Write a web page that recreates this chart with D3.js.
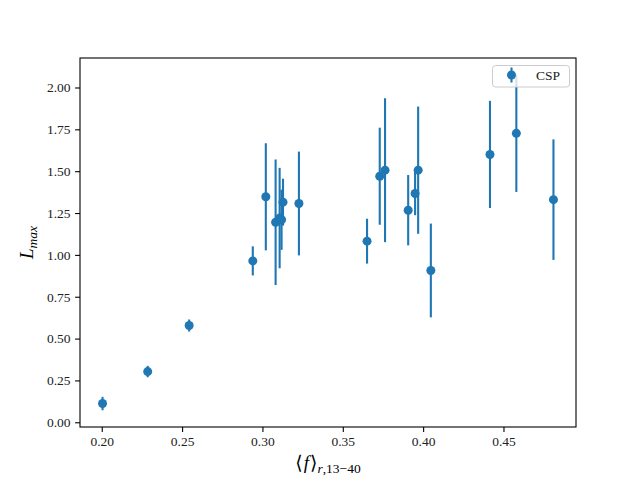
<!DOCTYPE html>
<html>
<head>
<meta charset="utf-8">
<script src="https://cdn.jsdelivr.net/npm/d3@7"></script>
<style>
    body { margin: 0; background: #fff; }
    svg { font-family: "Liberation Serif", "DejaVu Serif", serif; }
</style>
</head>
<body>
<div id="chart"></div>
<script>
// <f>_{r,13-40} against L_max, one series (CSP)
const fValues = [0.2005, 0.2286, 0.2544, 0.2940, 0.3021, 0.3082, 0.3107, 0.3119, 0.3128, 0.3227,
    0.3651, 0.3730, 0.3763, 0.3907, 0.3950, 0.3969, 0.4048, 0.4416, 0.4580, 0.4811]
const lMaxValues = [0.112, 0.303, 0.578, 0.964, 1.347, 1.195, 1.220, 1.210, 1.315, 1.307,
    1.082, 1.470, 1.506, 1.267, 1.367, 1.506, 0.907, 1.600, 1.726, 1.330]
const lMaxErrors = [0.040, 0.034, 0.036, 0.087, 0.320, 0.375, 0.300, 0.180, 0.140, 0.310,
    0.134, 0.290, 0.430, 0.210, 0.130, 0.380, 0.280, 0.320, 0.350, 0.360]
const seriesName = 'CSP'

const xTicks = [0.20, 0.25, 0.30, 0.35, 0.40, 0.45]
const yTicks = [0.00, 0.25, 0.50, 0.75, 1.00, 1.25, 1.50, 1.75, 2.00]

const width = 640
const height = 480
const margin = { top: 58, right: 64, bottom: 53, left: 80 }
const blue = '#1f77b4'

const points = fValues.map((f, i) => ({
    f: f,
    l: lMaxValues[i],
    err: lMaxErrors[i]
}))

// matplotlib style 5% padding
const xExt = d3.extent(fValues)
const xPad = (xExt[1] - xExt[0]) * 0.05
const yLo = d3.min(points, d => d.l - d.err)
const yHi = d3.max(points, d => d.l + d.err)
const yPad = (yHi - yLo) * 0.05

const x = d3.scaleLinear()
    .domain([xExt[0] - xPad, xExt[1] + xPad])
    .range([margin.left, width - margin.right])

const y = d3.scaleLinear()
    .domain([yLo - yPad, yHi + yPad])
    .range([height - margin.bottom, margin.top])

const svg = d3.select('#chart').append('svg')
    .attr('width', width)
    .attr('height', height)

svg.append('rect')
    .attr('width', width)
    .attr('height', height)
    .attr('fill', '#fff')

//error bars then markers
svg.append('g')
    .selectAll('line')
    .data(points)
    .enter().append('line')
    .attr('x1', d => x(d.f))
    .attr('x2', d => x(d.f))
    .attr('y1', d => y(d.l - d.err))
    .attr('y2', d => y(d.l + d.err))
    .attr('stroke', blue)
    .attr('stroke-width', 2.1)

svg.append('g')
    .selectAll('circle')
    .data(points)
    .enter().append('circle')
    .attr('cx', d => x(d.f))
    .attr('cy', d => y(d.l))
    .attr('r', 4.5)
    .attr('fill', blue)

// axes
const xAxis = svg.append('g')
    .attr('transform', 'translate(0,' + (height - margin.bottom) + ')')
    .call(d3.axisBottom(x).tickValues(xTicks).tickFormat(d3.format('.2f'))
        .tickSize(4.9).tickPadding(4.5))
const yAxis = svg.append('g')
    .attr('transform', 'translate(' + margin.left + ',0)')
    .call(d3.axisLeft(y).tickValues(yTicks).tickFormat(d3.format('.2f'))
        .tickSize(4.9).tickPadding(4.5))

for (const ax of [xAxis, yAxis]) {
    ax.select('.domain').remove()
    ax.selectAll('line').attr('stroke', '#000').attr('stroke-width', 1.1)
    ax.selectAll('text')
        .attr('fill', '#222')
        .style('font-size', '13.5px')
        .style('font-family', '"Liberation Serif", serif')
}

// frame
svg.append('rect')
    .attr('x', margin.left)
    .attr('y', margin.top)
    .attr('width', width - margin.left - margin.right)
    .attr('height', height - margin.top - margin.bottom)
    .attr('fill', 'none')
    .attr('stroke', '#000')
    .attr('stroke-width', 1.1)

// labels
const xLabel = svg.append('text')
    .attr('x', 328)
    .attr('y', 469)
    .attr('text-anchor', 'middle')
    .style('font-size', '19px')
xLabel.append('tspan').style('font-family', '"DejaVu Serif", serif').style('font-weight', 300).text('⟨')
xLabel.append('tspan').style('font-style', 'italic').attr('dx', 1).text('f')
xLabel.append('tspan').style('font-family', '"DejaVu Serif", serif').attr('dx', 1).text('⟩')
xLabel.append('tspan').attr('dy', 4).style('font-size', '13.5px').style('font-style', 'italic').text('r')
xLabel.append('tspan').style('font-size', '13.5px').text(',13−40')

const yLabel = svg.append('text')
    .attr('transform', 'translate(33,' + ((margin.top + height - margin.bottom) / 2) + ') rotate(-90)')
    .attr('text-anchor', 'middle')
    .style('font-size', '19px')
    .style('font-style', 'italic')
yLabel.append('tspan').text('L')
yLabel.append('tspan').attr('dy', 4).style('font-size', '13.5px').text('max')

// legend
const legend = svg.append('g')
legend.append('rect')
    .attr('x', 492.5)
    .attr('y', 65.5)
    .attr('width', 77)
    .attr('height', 21.5)
    .attr('rx', 3)
    .attr('fill', '#fff')
    .attr('fill-opacity', 0.8)
    .attr('stroke', '#ccc')
    .attr('stroke-width', 1)
legend.append('line')
    .attr('x1', 511.5).attr('x2', 511.5)
    .attr('y1', 67.5).attr('y2', 82.5)
    .attr('stroke', blue)
    .attr('stroke-width', 2.1)
legend.append('circle')
    .attr('cx', 511.5)
    .attr('cy', 75)
    .attr('r', 4.5)
    .attr('fill', blue)
legend.append('text')
    .attr('x', 536)
    .attr('y', 80)
    .attr('fill', '#222')
    .style('font-size', '13.5px')
    .text(seriesName)
</script>
</body>
</html>
